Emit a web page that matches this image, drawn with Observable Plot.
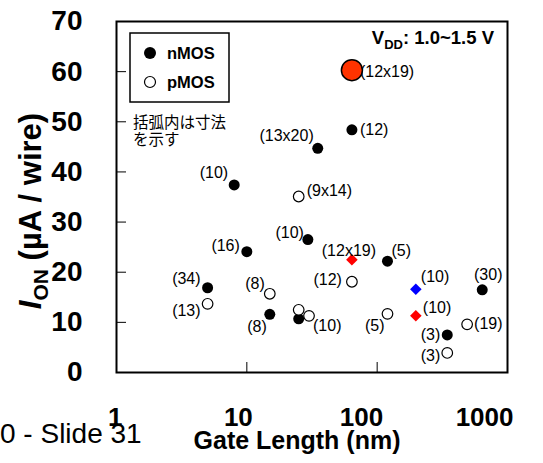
<!DOCTYPE html>
<html><head><meta charset="utf-8">
<script src="https://cdn.jsdelivr.net/npm/d3@7"></script>
<script src="https://cdn.jsdelivr.net/npm/@observablehq/plot@0.6"></script>
<style>
body{margin:0;background:#fff;}
#chart{position:relative;width:543px;height:463px;overflow:hidden;background:#fff}
</style></head><body><div id="chart"></div>
<script>
// ---- data (gate length in nm, I_ON in µA/wire, wire size label) ----
const nmosGate = [8, 10, 5, 15, 25, 29.4, 35, 64, 120, 345, 640];
const nmosIon  = [37.4, 24.1, 16.9, 11.6, 10.7, 26.5, 44.7, 48.4, 22.2, 7.5, 16.5];
const nmosSize = ["(10)", "(16)", "(34)", "(8)", "", "(10)", "(13x20)", "(12)", "(5)", "(3)", "(30)"];

const pmosGate = [5, 15, 25, 25, 30, 64, 120, 345, 490];
const pmosIon  = [13.7, 15.7, 35.1, 12.5, 11.3, 18.1, 11.7, 3.9, 9.6];
const pmosSize = ["(13)", "(8)", "(9x14)", "", "(10)", "(12)", "(5)", "(3)", "(19)"];

const redGate = [64, 198];
const redIon  = [22.5, 11.3];
const redSize = ["(12x19)", "(10)"];

const blueGate = [198];
const blueIon  = [16.6];
const blueSize = ["(10)"];

const bigGate = [64];
const bigIon  = [60.3];
const bigSize = ["(12x19)"];

const xTicks = [1, 10, 100, 1000];
const yTicks = [0, 10, 20, 30, 40, 50, 60, 70];

// ---- label placement (anchor, dx, dy) per point ----
const nmosPlace = [["end",-6,-12],["end",-7,-6],["end",-7,-9],["end",-3,13],null,["end",-4,-7],["end",-4,-12],["start",8,0],["start",4,-10],["end",-7,0],["middle",6,-15]];
const pmosPlace = [["end",-7,7],["end",-5,-10],["start",8,-6],null,["start",4,10],["end",-10,-2],["end",-3,12],["end",-7,3],["start",7,0]];
const redPlace  = [["middle",-3,-9],["start",7,-8]];
const bluePlace = [["start",5,-12]];
const bigPlace  = [["start",8,2]];

const rows = (g, v, s, p) => g.map((x, i) => ({x, y: v[i], label: s[i], place: p[i]}));
const nmos = rows(nmosGate, nmosIon, nmosSize, nmosPlace);
const pmos = rows(pmosGate, pmosIon, pmosSize, pmosPlace);
const red  = rows(redGate, redIon, redSize, redPlace);
const blue = rows(blueGate, blueIon, blueSize, bluePlace);
const big  = rows(bigGate, bigIon, bigSize, bigPlace);

const FONT = "'Liberation Sans', Arial, Helvetica, sans-serif";
const labelMarks = [...nmos, ...pmos, ...red, ...blue, ...big]
  .filter(d => d.label && d.place)
  .map(d => Plot.text([d], {x: "x", y: "y", text: "label", textAnchor: d.place[0], dx: d.place[1], dy: d.place[2], fontSize: 16, fill: "black"}));

const svg = Plot.plot({
  width: 543, height: 463,
  marginLeft: 116, marginRight: 36, marginTop: 21, marginBottom: 91,
  x: {type: "log", domain: [1, 1000]},
  y: {domain: [0, 70]},
  style: {fontFamily: FONT, background: "white", color: "black"},
  marks: [
    Plot.axisY(yTicks, {tickSize: 0, tickPadding: 34, fontSize: 28, fontWeight: "bold", label: null}),
    Plot.axisY(yTicks.slice(1, -1), {tickSize: -10, tickFormat: () => "", label: null, strokeWidth: 1}),
    Plot.axisX(xTicks, {tickSize: 0, tickPadding: 35, fontSize: 26, fontWeight: "bold", textAnchor: "end", dx: 6, label: null, tickFormat: d => String(d)}),
    Plot.axisX(xTicks.slice(1, -1), {tickSize: -10, tickFormat: () => "", label: null, strokeWidth: 1}),
    Plot.frame({stroke: "black", strokeWidth: 2}),
    Plot.dot(nmos, {x: "x", y: "y", r: 5.5, fill: "black"}),
    Plot.dot(pmos, {x: "x", y: "y", r: 5.3, fill: "white", stroke: "black", strokeWidth: 1.2}),
    Plot.dot(red, {x: "x", y: "y", symbol: "diamond2", r: 5.2, fill: "#ff0000"}),
    Plot.dot(blue, {x: "x", y: "y", symbol: "diamond2", r: 5.2, fill: "#0000ff"}),
    ...labelMarks,
    Plot.dot(big, {x: "x", y: "y", r: 10.5, fill: "#ff3300", stroke: "black", strokeWidth: 1.5})
  ]
});

const s = d3.select(svg);
const txt = (sel) => sel.append("text").attr("text-anchor", "start").attr("font-family", FONT).attr("fill", "black");
// legend
const lg = s.append("g");
lg.append("rect").attr("x", 130).attr("y", 33).attr("width", 99).attr("height", 69)
  .attr("fill", "white").attr("stroke", "black").attr("stroke-width", 1.5);
lg.append("circle").attr("cx", 150).attr("cy", 53).attr("r", 6).attr("fill", "black");
lg.append("circle").attr("cx", 150).attr("cy", 82).attr("r", 5.5).attr("fill", "white").attr("stroke", "black").attr("stroke-width", 1.2);
txt(lg).attr("x", 167).attr("y", 59).attr("font-size", 16.5).attr("font-weight", "bold").text("nMOS");
txt(lg).attr("x", 167).attr("y", 88).attr("font-size", 16.5).attr("font-weight", "bold").text("pMOS");

// note
const jp = "'Noto Sans CJK JP', 'Noto Sans CJK SC', sans-serif";
txt(s).attr("x", 133).attr("y", 128).attr("font-family", jp).attr("font-size", 15.5).text("括弧内は寸法");
txt(s).attr("x", 133).attr("y", 145).attr("font-family", jp).attr("font-size", 15.5).text("を示す");

// VDD
const vdd = txt(s).attr("x", 494).attr("y", 43.5).attr("text-anchor", "end")
  .attr("font-size", 18.5).attr("font-weight", "bold");
vdd.append("tspan").text("V");
vdd.append("tspan").attr("font-size", 13).attr("dy", 5).text("DD");
vdd.append("tspan").attr("dy", -5).text(": 1.0~1.5 V");

// y label
const yl = txt(s).attr("transform", "translate(41,211) rotate(-90)").attr("text-anchor", "middle")
  .attr("font-size", 31).attr("font-weight", "bold");
yl.append("tspan").attr("font-style", "italic").text("I");
yl.append("tspan").attr("font-size", 21).attr("dy", 7).text("ON");
yl.append("tspan").attr("dy", -7).text(" (µA / wire)");

// x label
txt(s).attr("x", 297).attr("y", 449).attr("text-anchor", "middle")
  .attr("font-size", 25).attr("font-weight", "bold").text("Gate Length (nm)");

// slide footer
s.insert("text", ":first-child").attr("x", 0).attr("y", 443).attr("text-anchor", "start")
  .attr("font-family", FONT).attr("fill", "black").attr("font-size", 28).text("0 - Slide 31");

document.getElementById("chart").appendChild(svg);
</script>
</body></html>
